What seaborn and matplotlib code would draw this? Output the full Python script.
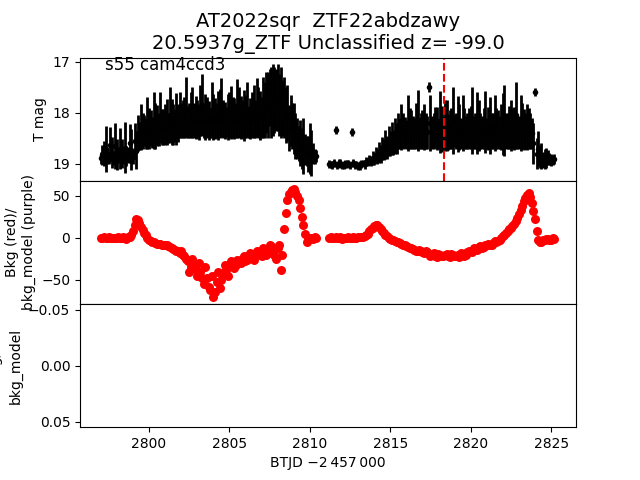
import numpy as np
import pandas as pd
import matplotlib
matplotlib.use("Agg")
import matplotlib.pyplot as plt
import seaborn as sns

# ---------------- data ----------------
# orbit 1, cadence set A
t_seg1_a = [2797.0, 2797.2, 2797.4, 2797.6, 2797.8, 2798.0, 2798.2, 2798.4, 2798.6, 2798.8,
            2799.0, 2799.2, 2799.4, 2799.6, 2799.8, 2800.0, 2800.2, 2800.4, 2800.6, 2800.8,
            2801.0, 2801.2, 2801.4, 2801.6, 2801.8, 2802.0, 2802.2, 2802.4, 2802.6, 2802.8,
            2803.0, 2803.2, 2803.4, 2803.6, 2803.8, 2804.0, 2804.2, 2804.4, 2804.6, 2804.8,
            2805.0, 2805.2, 2805.4, 2805.6, 2805.8, 2806.0, 2806.2, 2806.4, 2806.6, 2806.8,
            2807.0, 2807.2, 2807.4, 2807.6, 2807.8, 2808.0, 2808.2, 2808.4, 2808.6, 2808.8,
            2809.0, 2809.2, 2809.4, 2809.6, 2809.8, 2810.0, 2810.2, 2810.4]
mag_seg1_a = [18.88, 18.80, 18.85, 18.62, 18.90, 18.82, 18.70, 18.86, 18.84, 18.60, 18.87, 18.75,
              18.45, 18.35, 18.40, 18.30, 18.38, 18.25, 18.32, 18.28, 18.22, 18.30, 18.18, 18.25, 18.20,
              18.15, 18.10, 18.20, 18.05, 18.15, 18.12, 17.95, 18.18, 18.10, 18.20, 18.08, 18.15, 18.02,
              18.12, 18.18, 18.05, 18.10, 18.15, 18.00, 18.12, 18.08, 18.18, 18.05, 18.12, 18.00, 18.10,
              17.95, 17.85, 17.80, 17.75, 17.70, 17.80, 17.90, 18.00, 18.15,
              18.30, 18.50, 18.60, 18.65, 18.75, 18.70, 18.80, 18.85]
err_seg1_a = [0.12, 0.25, 0.15, 0.35, 0.12, 0.30, 0.40, 0.15, 0.20, 0.38, 0.14, 0.35,
              0.28, 0.35, 0.30, 0.40, 0.30, 0.45, 0.32, 0.35, 0.40, 0.30, 0.45, 0.33, 0.38,
              0.35, 0.40, 0.30, 0.45, 0.35, 0.38, 0.50, 0.32, 0.40, 0.30, 0.45, 0.35, 0.48,
              0.38, 0.30, 0.45, 0.40, 0.35, 0.50, 0.38, 0.42, 0.32, 0.45, 0.38, 0.50, 0.40,
              0.55, 0.65, 0.70, 0.65, 0.65, 0.70, 0.60, 0.55, 0.50,
              0.50, 0.40, 0.45, 0.55, 0.30, 0.50, 0.20, 0.12]
bkg_seg1_a = [0, 0.5, -0.5, 0, 0.3, -0.3, 0, 0.5, -1, 1,
              8, 22, 18, 9, 3, -3, -5, -6, -7, -8, -9, -10, -12, -14, -16,
              -15, -22, -28, -35, -30, -45, -40, -55, -48, -62, -70, -52, -60, -42, -38,
              -34, -30, -32, -27, -25, -28, -22, -24, -20, -18, -22, -15, -18, -10, -20,
              -12, -38, 10, 45, 55, 58, 50, 35, 15, -5, 0, -1, 0]

# orbit 1, cadence set B
t_seg1_b = [2797.1, 2797.3, 2797.5, 2797.7, 2797.9, 2798.1, 2798.3, 2798.5, 2798.7, 2798.9,
            2799.1, 2799.3, 2799.5, 2799.7, 2799.9, 2800.1, 2800.3, 2800.5, 2800.7, 2800.9,
            2801.1, 2801.3, 2801.5, 2801.7, 2801.9, 2802.1, 2802.3, 2802.5, 2802.7, 2802.9,
            2803.1, 2803.3, 2803.5, 2803.7, 2803.9, 2804.1, 2804.3, 2804.5, 2804.7, 2804.9,
            2805.1, 2805.3, 2805.5, 2805.7, 2805.9, 2806.1, 2806.3, 2806.5, 2806.7, 2806.9,
            2807.1, 2807.3, 2807.5, 2807.7, 2807.9, 2808.1, 2808.3, 2808.5, 2808.7, 2808.9,
            2809.1, 2809.3, 2809.5, 2809.7, 2809.9, 2810.1, 2810.3]
mag_seg1_b = [18.82, 18.70, 18.88, 18.78, 18.65, 18.85, 18.80, 18.68, 18.83, 18.72, 18.55,
              18.40, 18.28, 18.35, 18.20, 18.30, 18.15, 18.25, 18.10, 18.28, 18.18, 18.05, 18.22, 18.12,
              18.05, 18.12, 17.90, 18.15, 18.00, 18.10, 18.18, 17.85, 18.08, 18.15, 17.95, 18.12, 18.05,
              17.90, 18.15, 18.08, 18.00, 18.12, 17.92, 18.10, 18.05, 17.95, 18.12, 17.98, 17.90, 18.05,
              17.90, 17.80, 17.70, 17.75, 17.75, 17.85, 17.90, 18.05, 18.30,
              18.25, 18.45, 18.60, 18.70, 18.72, 18.80, 18.78, 18.85]
err_seg1_b = [0.20, 0.45, 0.13, 0.30, 0.45, 0.14, 0.28, 0.50, 0.16, 0.40, 0.35,
              0.35, 0.45, 0.30, 0.50, 0.35, 0.55, 0.40, 0.50, 0.35, 0.45, 0.55, 0.40, 0.50,
              0.45, 0.38, 0.60, 0.35, 0.50, 0.42, 0.35, 0.60, 0.45, 0.38, 0.55, 0.40, 0.48,
              0.58, 0.36, 0.45, 0.52, 0.40, 0.58, 0.42, 0.50, 0.55, 0.40, 0.52, 0.58, 0.48,
              0.60, 0.60, 0.55, 0.70, 0.60, 0.60, 0.55, 0.55, 0.45,
              0.45, 0.45, 0.35, 0.40, 0.30, 0.35, 0.45, 0.15]
bkg_seg1_b = [0.3, -0.5, 0.5, -0.3, 0, 0.5, -0.5, 0, 0.5, 3,
              15, 21, 13, 6, 0, -4, -5, -7, -7, -9, -9, -11, -13, -15, -18,
              -20, -25, -40, -25, -38, -30, -48, -35, -58, -45, -64, -40, -50, -32, -45,
              -28, -36, -26, -30, -22, -26, -18, -26, -16, -20, -12, -20, -8, -14, -25,
              -8, -20, 30, 52, 57, 55, 45, 25, 5, -3, 0, 0.5]

# orbit 2, cadence set A
t_seg2_a = [2811.2, 2811.4, 2811.6, 2811.8, 2812.0, 2812.2, 2812.4, 2812.6, 2812.8, 2813.0,
            2813.2, 2813.4, 2813.6, 2813.8, 2814.0, 2814.2, 2814.4, 2814.6, 2814.8, 2815.0,
            2815.2, 2815.4, 2815.6, 2815.8, 2816.0, 2816.2, 2816.4, 2816.6, 2816.8, 2817.0,
            2817.2, 2817.4, 2817.6, 2817.8, 2818.0, 2818.2, 2818.4, 2818.6, 2818.8, 2819.0,
            2819.2, 2819.4, 2819.6, 2819.8, 2820.0, 2820.2, 2820.4, 2820.6, 2820.8, 2821.0,
            2821.2, 2821.4, 2821.6, 2821.8, 2822.0, 2822.2, 2822.4, 2822.6, 2822.8, 2823.0,
            2823.2, 2823.4, 2823.6, 2823.8, 2824.0, 2824.2, 2824.4, 2824.6, 2824.8, 2825.0,
            2825.2]
mag_seg2_a = [19.00, 19.02, 18.33, 18.98, 19.03, 19.00, 18.99, 18.37, 19.02, 19.04, 19.00, 19.01, 18.97, 18.95,
              18.90, 18.85, 18.80, 18.72, 18.68, 18.60, 18.58, 18.50,
              18.40, 18.35, 18.42, 18.30, 18.38, 18.25, 18.40, 18.32, 18.35, 17.50,
              18.38, 18.28, 18.40, 18.32, 18.25, 18.38, 18.30, 18.35, 18.22, 18.40,
              18.30, 18.35, 18.28, 18.38, 18.20, 18.35, 18.30, 18.40, 18.25, 18.35,
              18.30, 18.38, 18.22, 18.35, 18.28, 18.30, 18.05, 18.38, 18.25, 18.35,
              18.30, 18.40,
              17.60, 18.70, 18.85, 18.90, 18.88, 18.92, 18.90]
err_seg2_a = [0.08, 0.07, 0.08, 0.08, 0.07, 0.08, 0.07, 0.08, 0.07, 0.08, 0.07, 0.08, 0.08, 0.10,
              0.12, 0.15, 0.18, 0.20, 0.22, 0.25, 0.25, 0.30,
              0.30, 0.35, 0.28, 0.40, 0.32, 0.45, 0.30, 0.38, 0.35, 0.10,
              0.32, 0.40, 0.30, 0.45, 0.50, 0.35, 0.40, 0.32, 0.55, 0.30,
              0.40, 0.35, 0.42, 0.32, 0.60, 0.35, 0.40, 0.30, 0.55, 0.35,
              0.40, 0.32, 0.60, 0.35, 0.42, 0.40, 0.65, 0.32, 0.45, 0.35,
              0.40, 0.30,
              0.08, 0.35, 0.25, 0.20, 0.15, 0.12, 0.10]
bkg_seg2_a = [0, -0.5, 0.5, 0, -1, 0, 0.5, -0.5, 0, 1, 0.5, 2,
              5, 10, 14, 15, 11, 6, 2, -1, -3, -5, -6, -8, -10, -12, -13, -15, -14, -17,
              -16, -19, -20, -21, -19, -22, -20, -21, -19, -22, -20, -18, -21, -17, -16,
              -12, -14, -10, -11, -8, -9, -6, -5, -2, 2, 6, 10, 14, 20, 28, 38, 48, 53,
              42, 22, -3, -5, -2, -1, -2, -1]

# orbit 2, cadence set B
t_seg2_b = [2811.3, 2811.5, 2811.7, 2811.9, 2812.1, 2812.3, 2812.5, 2812.7, 2812.9, 2813.1,
            2813.3, 2813.5, 2813.7, 2813.9, 2814.1, 2814.3, 2814.5, 2814.7, 2814.9, 2815.1,
            2815.3, 2815.5, 2815.7, 2815.9, 2816.1, 2816.3, 2816.5, 2816.7, 2816.9, 2817.1,
            2817.3, 2817.5, 2817.7, 2817.9, 2818.1, 2818.3, 2818.5, 2818.7, 2818.9, 2819.1,
            2819.3, 2819.5, 2819.7, 2819.9, 2820.1, 2820.3, 2820.5, 2820.7, 2820.9, 2821.1,
            2821.3, 2821.5, 2821.7, 2821.9, 2822.1, 2822.3, 2822.5, 2822.7, 2822.9, 2823.1,
            2823.3, 2823.5, 2823.7, 2823.9, 2824.1, 2824.3, 2824.5, 2824.7, 2824.9, 2825.1]
mag_seg2_b = [19.01, 18.98, 19.03, 18.99, 19.02, 19.00, 19.03, 18.98, 19.01, 19.03, 18.99, 18.96, 18.93,
              18.88, 18.82, 18.78, 18.70, 18.62, 18.55, 18.50, 18.45,
              18.35, 18.28, 18.38, 18.20, 18.32, 18.40, 18.15, 18.35, 18.28, 18.38,
              18.20, 18.35, 18.30, 18.18, 18.38, 18.25, 18.32, 18.15, 18.35, 18.28,
              18.20, 18.38, 18.30, 18.15, 18.35, 18.25, 18.38, 18.18, 18.30, 18.35,
              18.20, 18.32, 18.28, 18.15, 18.35, 18.25, 18.30, 18.38, 18.20, 18.32,
              18.28, 18.35,
              18.60, 18.80, 18.85, 18.92, 18.88, 18.90, 18.93]
err_seg2_b = [0.07, 0.08, 0.07, 0.08, 0.07, 0.08, 0.07, 0.08, 0.07, 0.08, 0.07, 0.09, 0.10,
              0.14, 0.16, 0.20, 0.22, 0.28, 0.30, 0.32, 0.35,
              0.35, 0.45, 0.30, 0.55, 0.38, 0.30, 0.60, 0.35, 0.45, 0.32,
              0.55, 0.35, 0.42, 0.60, 0.32, 0.50, 0.38, 0.65, 0.35, 0.45,
              0.55, 0.32, 0.40, 0.65, 0.35, 0.50, 0.32, 0.60, 0.42, 0.35,
              0.55, 0.38, 0.45, 0.70, 0.35, 0.50, 0.42, 0.32, 0.55, 0.40,
              0.45, 0.35,
              0.40, 0.30, 0.22, 0.15, 0.20, 0.12, 0.10]
bkg_seg2_b = [0.5, 0, -0.5, 0.5, 0, -0.5, 0, 0.5, -0.5, 0.5, 1, 3,
              8, 12, 15, 13, 8, 4, 0, -2, -4, -5, -7, -9, -11, -12, -14, -16, -15, -18,
              -17, -21, -18, -23, -20, -22, -19, -23, -20, -21, -23, -19, -20, -15, -17,
              -13, -11, -12, -9, -7, -8, -4, -4, 0, 4, 8, 12, 17, 24, 33, 44, 51, 49,
              32, 8, -5, -3, -1, -2, 0]

marker_time = 2818.35
title_text = "AT2022sqr  ZTF22abdzawy\n20.5937g_ZTF Unclassified z= -99.0"
sector_text = "s55 cam4ccd3"

df = pd.DataFrame({
    "time": t_seg1_a + t_seg1_b + t_seg2_a + t_seg2_b,
    "mag": mag_seg1_a + mag_seg1_b + mag_seg2_a + mag_seg2_b,
    "err": err_seg1_a + err_seg1_b + err_seg2_a + err_seg2_b,
    "bkg": bkg_seg1_a + bkg_seg1_b + bkg_seg2_a + bkg_seg2_b,
})

# ---------------- plot ----------------
fig, axes = plt.subplots(3, 1, sharex=True, figsize=(6.4, 4.8), dpi=100)
fig.subplots_adjust(hspace=0)
ax0, ax1, ax2 = axes

ax0.errorbar(df["time"], df["mag"], yerr=df["err"], fmt="none",
             ecolor="black", elinewidth=2.0, capsize=0)
sns.scatterplot(data=df, x="time", y="mag", ax=ax0, color="black",
                s=16, linewidth=0, legend=False)
ax0.axvline(marker_time, color="red", linestyle="--", linewidth=1.5)
ax0.set_ylim(19.33, 16.92)
ax0.set_yticks([17, 18, 19])
ax0.set_ylabel("T mag")
ax0.set_xlabel("")
ax0.set_title(title_text, fontsize=14)
ax0.text(0.05, 0.9, sector_text, transform=ax0.transAxes, fontsize=12)

sns.scatterplot(data=df, x="time", y="bkg", ax=ax1, color="red",
                s=42, linewidth=0, legend=False)
ax1.set_ylim(-78.6, 67.9)
ax1.set_yticks([-50, 0, 50])
ax1.set_ylabel("Bkg (red)/\nbkg_model (purple)")
ax1.set_xlabel("")

ax2.set_ylim(0.055, -0.055)
ax2.set_yticks([-0.05, 0.0, 0.05])
ax2.set_ylabel("Bkg/\nbkg_model", linespacing=1.6)
ax2.set_xlim(2795.71, 2826.55)
ax2.set_xticks([2800, 2805, 2810, 2815, 2820, 2825])
ax2.set_xlabel("BTJD \u22122\u2009457\u2009000")

fig.savefig("out.png", dpi=100)
